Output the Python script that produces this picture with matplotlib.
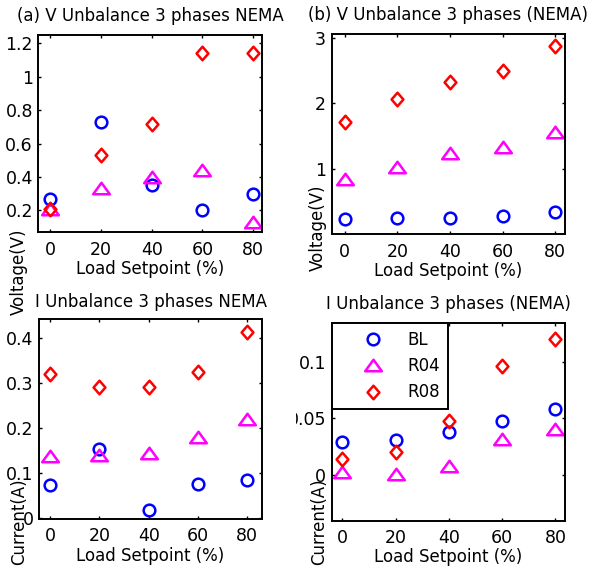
import matplotlib
matplotlib.use('Agg')
import matplotlib.pyplot as plt
from matplotlib.path import Path
from matplotlib.transforms import Bbox, TransformedBbox

plt.rcParams['font.family'] = 'DejaVu Sans'
plt.rcParams['font.size'] = 12

# load setpoints (%)
load = [0, 20, 40, 60, 80]
series_names = ['BL', 'R04', 'R08']

# (a) V Unbalance NEMA
va_bl = [0.268, 0.73, 0.35, 0.20, 0.30]
va_r04 = [0.208, 0.334, 0.40, 0.44, 0.13]
va_r08 = [0.21, 0.53, 0.72, 1.145, 1.14]

# (b) V Unbalance (NEMA)
vb_bl = [0.24, 0.26, 0.26, 0.29, 0.35]
vb_r04 = [0.85, 1.03, 1.25, 1.34, 1.57]
vb_r08 = [1.72, 2.06, 2.33, 2.50, 2.87]

# (c) I Unbalance NEMA
ic_bl = [0.072, 0.153, 0.017, 0.075, 0.084]
ic_r04 = [0.138, 0.140, 0.144, 0.179, 0.220]
ic_r08 = [0.320, 0.291, 0.292, 0.325, 0.413]

# (d) I Unbalance (NEMA)
id_bl = [0.029, 0.031, 0.038, 0.048, 0.058]
id_r04 = [0.003, 0.0006, 0.008, 0.032, 0.041]
id_r08 = [0.014, 0.020, 0.048, 0.096, 0.120]


def closed(verts):
    return Path(verts + [verts[0]], closed=True)


tri = closed([(-1, -0.69), (1, -0.69), (0, 0.69)])
dia = closed([(0, 1), (0.87, 0), (0, -1), (-0.87, 0)])
styles = [
    dict(marker='o', color='#0000ff', ms=8.4),
    dict(marker=tri, color='#ff00ff', ms=12),
    dict(marker=dia, color='#ff0000', ms=9.8),
]

panels = [
    dict(rect=[0.0650, 0.5971, 0.3780, 0.3423], data=[va_bl, va_r04, va_r08],
         title='(a) V Unbalance 3 phases NEMA', ylabel='Voltage(V)',
         xlim=(-4.7, 83.6), ylim=(0.068, 1.25),
         yticks=[0.2, 0.4, 0.6, 0.8, 1.0, 1.2],
         ylabels=['0.2', '0.4', '0.6', '0.8', '1', '1.2'],
         lab=(-0.047, -0.20), tpad=10),
    dict(rect=[0.5603, 0.5939, 0.3946, 0.3466], data=[vb_bl, vb_r04, vb_r08],
         title='(b) V Unbalance 3 phases (NEMA)', ylabel='Voltage(V)',
         xlim=(-4.9, 83.8), ylim=(0.01, 3.05),
         yticks=[1, 2, 3], ylabels=['1', '2', '3'],
         lab=(-0.020, 0.032), tpad=10),
    dict(rect=[0.0659, 0.1005, 0.3767, 0.3466], data=[ic_bl, ic_r04, ic_r08],
         title='I Unbalance 3 phases NEMA', ylabel='Current(A)',
         xlim=(-4.5, 86.0), ylim=(-0.003, 0.443),
         yticks=[0, 0.1, 0.2, 0.3, 0.4],
         ylabels=['0', '0.1', '0.2', '0.3', '0.4'],
         lab=(-0.049, -0.015), tpad=9),
    dict(rect=[0.5603, 0.0976, 0.3941, 0.3421], data=[id_bl, id_r04, id_r08],
         title='I Unbalance 3 phases (NEMA)', ylabel='Current(A)',
         xlim=(-4.0, 83.6), ylim=(-0.0403, 0.1339),
         yticks=[0, 0.05, 0.1], ylabels=['0', '0.05', '0.1'],
         lab=(-0.016, -0.007), tpad=10),
]

fig = plt.figure(figsize=(5.92, 5.77), dpi=100)
axes = []
for p in panels:
    ax = fig.add_axes(p['rect'])
    for vals, name, st in zip(p['data'], series_names, styles):
        ax.plot(load, vals, linestyle='none', marker=st['marker'], ms=st['ms'],
                mfc='none', mec=st['color'], mew=1.8, label=name)
    ax.set_xlim(*p['xlim'])
    ax.set_ylim(*p['ylim'])
    ax.set_xticks(load)
    ax.set_yticks(p['yticks'])
    ax.set_yticklabels(p['ylabels'])
    ax.tick_params(direction='in', length=2.5, width=1, top=True, right=True,
                   labelsize=12.5)
    ax.tick_params(axis='x', pad=6)
    ax.tick_params(axis='y', pad=4)
    for s in ax.spines.values():
        s.set_linewidth(1.4)
    ax.set_title(p['title'], fontsize=12, pad=p['tpad'])
    ax.set_xlabel('Load Setpoint (%)', labelpad=1)
    ax.set_ylabel(p['ylabel'])
    ax.yaxis.set_label_coords(*p['lab'])
    axes.append(ax)

leg = axes[3].legend(loc='upper left', borderaxespad=0, fancybox=False,
                     edgecolor='black', framealpha=1, borderpad=0.45,
                     handlelength=4.0, handletextpad=0.1, labelspacing=0.5)
leg.get_frame().set_linewidth(1.4)

# left part of the (d) tick labels is hidden behind panel (c)
clip = TransformedBbox(Bbox([[296 / 592, 0], [1, 1]]), fig.transFigure)
for t in axes[3].get_yticklabels():
    t.set_clip_box(clip)
    t.set_clip_on(True)

fig.savefig('out.png', dpi=100)
